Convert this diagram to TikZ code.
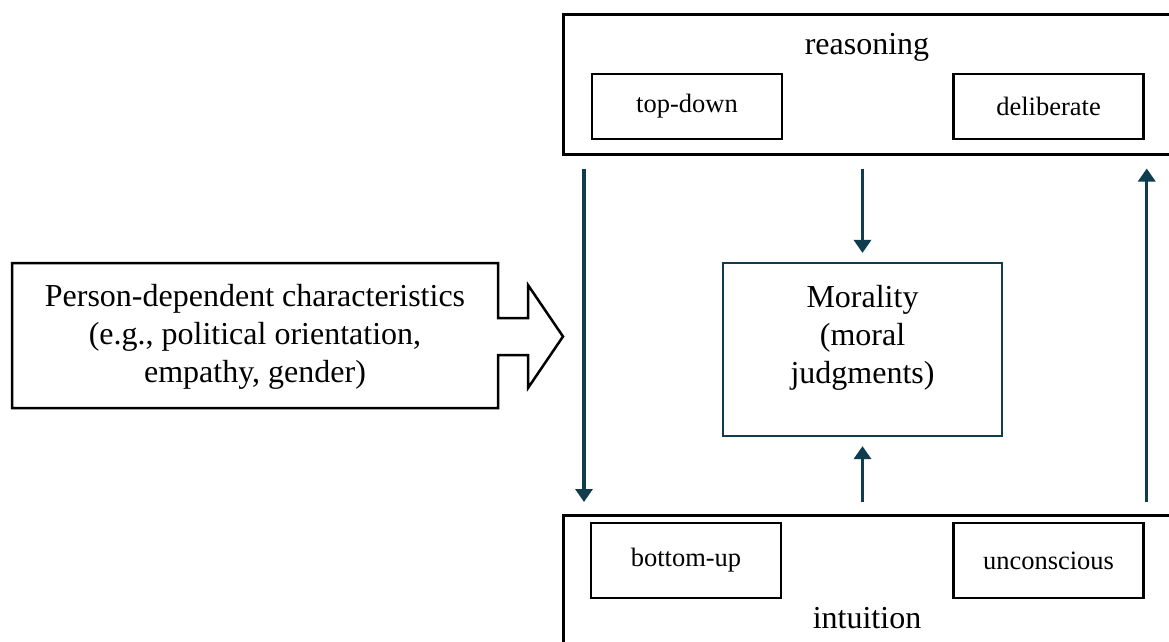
\documentclass[tikz,border=0pt]{standalone}
\usepackage{fontspec}
\setmainfont{Liberation Serif}
\usetikzlibrary{arrows.meta,calc}
\definecolor{darkteal}{HTML}{0F3D4F}
\begin{document}
\begin{tikzpicture}[x=1pt,y=-1pt,
  outerbox/.style={draw=black,line width=2.5pt,inner sep=0pt},
  smallbox/.style={draw=black,line width=2.5pt,inner sep=0pt,font=\fontsize{26.5}{31}\selectfont},
  bigtext/.style={inner sep=0pt,font=\fontsize{32}{38}\selectfont,align=center},
  moralbox/.style={draw=darkteal,line width=2.2pt,inner sep=0pt},
  flow/.style={draw=darkteal,line width=3.4pt,-{Triangle[width=17pt,length=13pt]}}]
\path[use as bounding box] (0,0) rectangle (1169,641);
\clip (0,0) rectangle (1169,641);
\fill[white] (0,0) rectangle (1169,641);
% reasoning
\node[outerbox,minimum width=620pt,minimum height=140pt,anchor=north west] (reasoning) at (562,13) {};
\node[bigtext] (reasoninglabel) at (867,47) {reasoning};
\node[smallbox,minimum width=190pt,minimum height=65pt] (topdown) at (687,106.5) {top-down};
\node[smallbox,minimum width=190pt,minimum height=65pt] (deliberate) at (1048.5,106.5) {deliberate};
% intuition
\node[outerbox,minimum width=620pt,minimum height=150pt,anchor=north west] (intuition) at (562,514) {};
\node[bigtext] (intuitionlabel) at (867,618) {intuition};
\node[smallbox,minimum width=190pt,minimum height=75pt] (bottomup) at (686,560.5) {bottom-up};
\node[smallbox,minimum width=190pt,minimum height=75pt] (unconscious) at (1048.5,560.5) {unconscious};
% morality
\node[moralbox,minimum width=279pt,minimum height=173pt] (morality) at (862.5,349.5) {};
\node[bigtext] (moralitytext) at (862.5,338) {Morality\\(moral\\judgments)};
% person arrow
\draw[line width=2.5pt,line join=miter] (12,263) -- (498,263) -- (498,318) -- (528,318) -- (528,285) -- (563,336.5) -- (528,388) -- (528,355) -- (498,355) -- (498,408) -- (12,408) -- cycle;
\node[bigtext] (person) at (255,337) {Person-dependent characteristics\\(e.g., political orientation,\\empathy, gender)};
% connectors
\draw[flow] ($(reasoning.south west)+(22,13)$) -- ($(intuition.north west)+(22,-12)$);
\draw[flow] ($(morality.north |- reasoning.south)+(0,13)$) -- ($(morality.north)+(0,-9)$);
\draw[flow] ($(morality.south |- intuition.north)+(0,-12)$) -- ($(morality.south)+(0,9)$);
\draw[flow] ($(deliberate.south east |- intuition.north)+(2,-12)$) -- ($(deliberate.south east |- reasoning.south)+(2,13)$);
\end{tikzpicture}
\end{document}
